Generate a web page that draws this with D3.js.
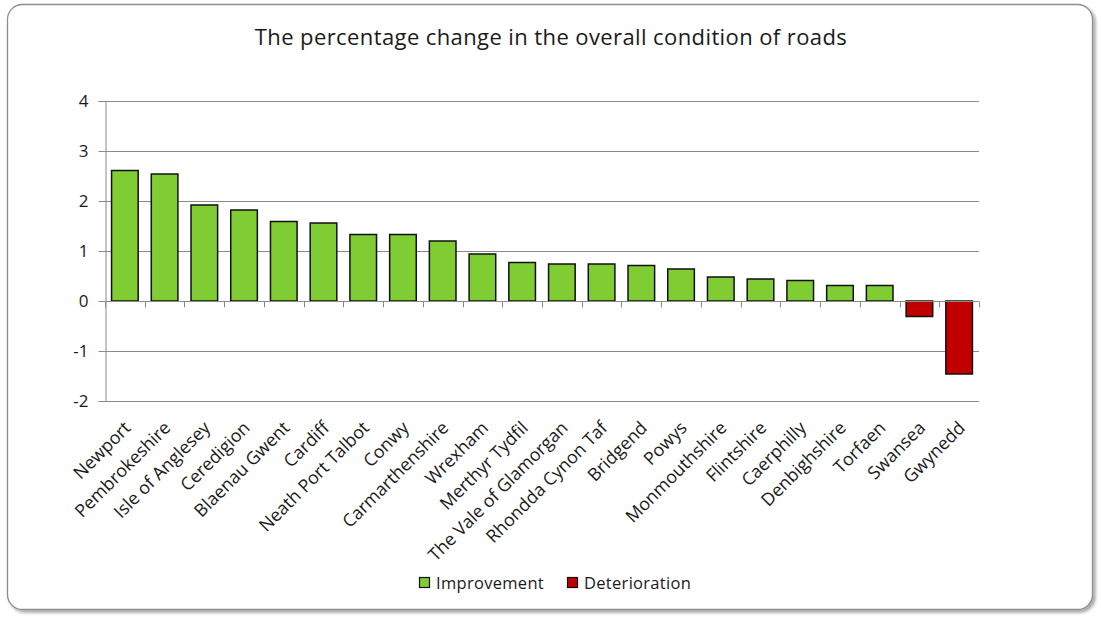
<!DOCTYPE html>
<html>
<head>
<meta charset="utf-8">
<script src="https://cdn.jsdelivr.net/npm/d3@7"></script>
<style>
  body { margin: 0; background: #fff; }
  text { font-family: "Open Sans", sans-serif; fill: #1a1a1a; }
</style>
</head>
<body>
<div id="chart"></div>
<script>
// data
var councils = ["Newport", "Pembrokeshire", "Isle of Anglesey", "Ceredigion", "Blaenau Gwent",
    "Cardiff", "Neath Port Talbot", "Conwy", "Carmarthenshire", "Wrexham", "Merthyr Tydfil",
    "The Vale of Glamorgan", "Rhondda Cynon Taf", "Bridgend", "Powys", "Monmouthshire",
    "Flintshire", "Caerphilly", "Denbighshire", "Torfaen", "Swansea", "Gwynedd"];
var changes = [2.61, 2.54, 1.92, 1.82, 1.59, 1.56, 1.33, 1.33, 1.2, 0.94, 0.77,
    0.74, 0.74, 0.71, 0.64, 0.48, 0.44, 0.41, 0.31, 0.31, -0.31, -1.46];
var yTicks = [-2, -1, 0, 1, 2, 3, 4];
var seriesNames = ["Improvement", "Deterioration"];
var seriesColors = ["#7fcc33", "#c00000"];

var svgWidth = 1101;
var svgHeight = 619;

var margin = { top: 101, right: 122, bottom: 218, left: 105 };
var width = svgWidth - margin.left - margin.right;
var height = svgHeight - margin.top - margin.bottom;

var svg = d3.select("#chart")
    .append("svg")
    .attr("width", svgWidth)
    .attr("height", svgHeight);

// drop shadow for the frame
var defs = svg.append("defs");
var filter = defs.append("filter").attr("id", "shadow")
    .attr("x", "-5%").attr("y", "-5%").attr("width", "110%").attr("height", "110%");
filter.append("feDropShadow")
    .attr("dx", 2.5).attr("dy", 2.5).attr("stdDeviation", 1.5)
    .attr("flood-color", "#000").attr("flood-opacity", 0.35);

svg.append("rect")
    .attr("x", 7.5).attr("y", 4.5)
    .attr("width", 1085).attr("height", 605)
    .attr("rx", 15).attr("ry", 15)
    .attr("fill", "#fff")
    .attr("stroke", "#8c8c8c")
    .attr("stroke-width", 1.3)
    .attr("filter", "url(#shadow)");

// title
svg.append("text")
    .attr("x", 551)
    .attr("y", 45)
    .attr("text-anchor", "middle")
    .attr("font-size", "22px")
    .attr("letter-spacing", "0.4px")
    .text("The percentage change in the overall condition of roads");

var chartGroup = svg.append("g")
    .attr("transform", `translate(${margin.left}, ${margin.top})`);

var xScale = d3.scaleBand()
    .domain(councils)
    .range([0, width])
    .paddingInner(0.33)
    .paddingOuter(0.165);

var yScale = d3.scaleLinear()
    .domain([-2, 4])
    .range([height, 0]);

// gridlines
chartGroup.append("g")
    .selectAll("line")
    .data(yTicks)
    .enter()
    .append("line")
    .attr("x1", 0)
    .attr("x2", width)
    .attr("y1", d => Math.round(yScale(d)) + 0.5)
    .attr("y2", d => Math.round(yScale(d)) + 0.5)
    .attr("stroke", "#8a8a8a")
    .attr("stroke-width", 1);

// y axis
var leftAxis = d3.axisLeft(yScale)
    .tickValues(yTicks)
    .tickSize(7)
    .tickPadding(10)
    .tickFormat(d3.format("d"));

var yAxisG = chartGroup.append("g")
    .attr("transform", "translate(0.5, 0)")
    .call(leftAxis);
yAxisG.select(".domain").attr("stroke", "#8a8a8a");
yAxisG.selectAll(".tick line").attr("stroke", "#8a8a8a");
yAxisG.selectAll(".tick text")
    .attr("font-size", "17px")
    .attr("font-family", "Open Sans, sans-serif")
    .attr("fill", "#1a1a1a")
    .text(d => d < 0 ? "-" + Math.abs(d) : d);

// bars
chartGroup.selectAll("rect.bar")
    .data(changes)
    .enter()
    .append("rect")
    .attr("class", "bar")
    .attr("x", (d, i) => xScale(councils[i]))
    .attr("y", d => yScale(Math.max(0, d)))
    .attr("width", xScale.bandwidth())
    .attr("height", d => Math.abs(yScale(d) - yScale(0)))
    .attr("fill", d => d >= 0 ? seriesColors[0] : seriesColors[1])
    .attr("stroke", "#111")
    .attr("stroke-width", 1.5);

// x axis at zero with ticks at band boundaries
var zeroY = Math.round(yScale(0)) + 0.5;
var step = xScale.step();
var xAxisG = chartGroup.append("g");
xAxisG.append("line")
    .attr("x1", 0).attr("x2", width)
    .attr("y1", zeroY).attr("y2", zeroY)
    .attr("stroke", "#8a8a8a");
xAxisG.selectAll("line.tick")
    .data(d3.range(councils.length + 1))
    .enter()
    .append("line")
    .attr("class", "tick")
    .attr("x1", i => Math.round(i * step) + 0.5)
    .attr("x2", i => Math.round(i * step) + 0.5)
    .attr("y1", zeroY)
    .attr("y2", zeroY + 6)
    .attr("stroke", "#8a8a8a");

// category labels below the plot
chartGroup.selectAll("text.cat")
    .data(councils)
    .enter()
    .append("text")
    .attr("class", "cat")
    .attr("text-anchor", "end")
    .attr("font-size", "17.8px")
    .attr("transform", d => `translate(${xScale(d) + xScale.bandwidth() / 2 + 7}, ${height + 28}) rotate(-45)`)
    .text(d => d);

// legend
var legend = svg.append("g")
    .attr("transform", "translate(419, 577)");
var legendX = [0, 148];
seriesNames.forEach(function(name, i) {
    legend.append("rect")
        .attr("x", legendX[i] + 0.5)
        .attr("y", 0.5)
        .attr("width", 10)
        .attr("height", 10)
        .attr("fill", seriesColors[i])
        .attr("stroke", "#111")
        .attr("stroke-width", 1.2);
    legend.append("text")
        .attr("x", legendX[i] + 17)
        .attr("y", 12)
        .attr("font-size", "16.5px")
        .attr("letter-spacing", "0.3px")
        .text(name);
});
</script>
</body>
</html>
